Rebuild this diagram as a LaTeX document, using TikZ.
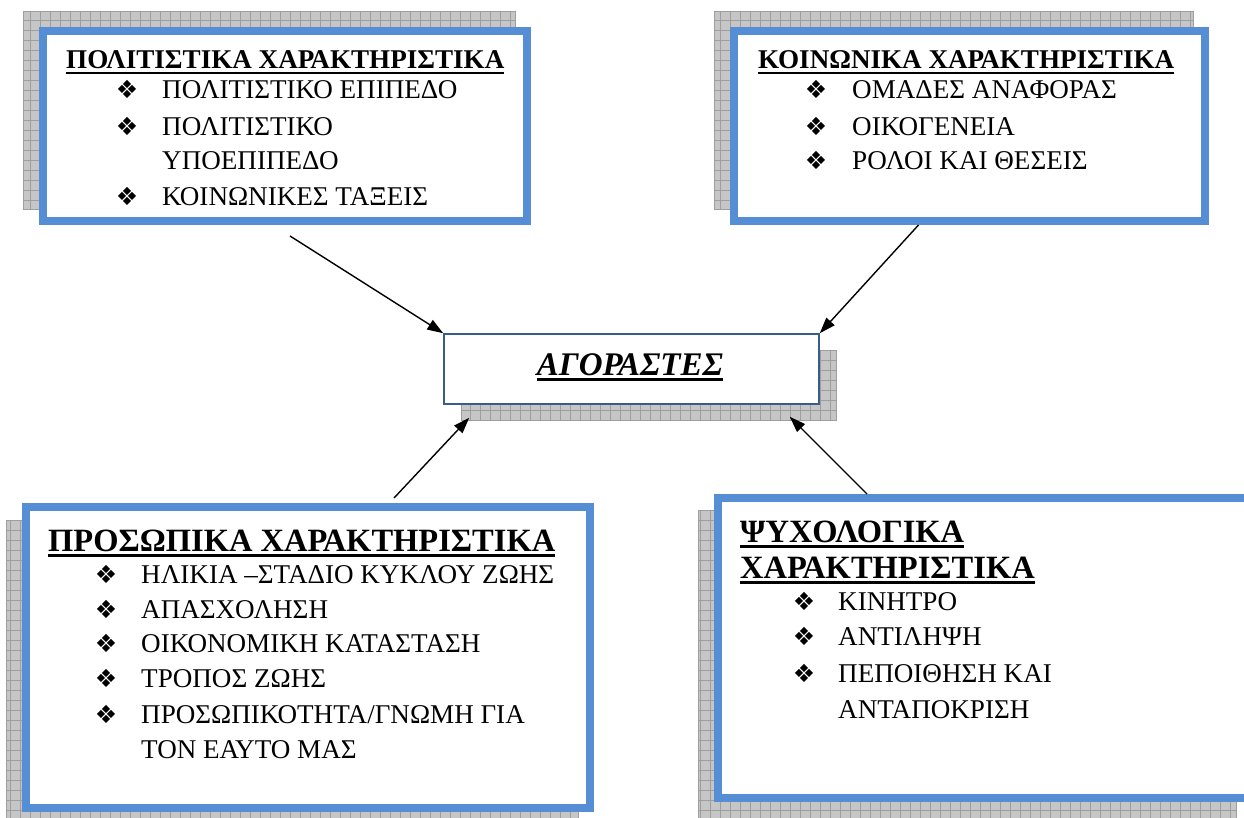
\documentclass[tikz,border=0pt]{standalone}
\usepackage{fontspec}
\setmainfont{Liberation Serif}
\newfontfamily\dejavu{DejaVu Sans}
\usetikzlibrary{arrows.meta,calc}
\definecolor{boxblue}{RGB}{85,142,213}
\definecolor{cborder}{RGB}{56,93,138}
\definecolor{shadowgray}{RGB}{198,198,198}
\definecolor{gridgray}{RGB}{158,158,158}
\newcommand\ulbox[1]{\setbox0\hbox{#1}\rlap{\rule[-5.5pt]{\wd0}{2.4pt}}\box0}
\begin{document}
\begin{tikzpicture}[x=1pt,y=-1pt,
  bluebox/.style={draw=boxblue, line width=8pt, fill=white, inner sep=0pt},
  centerbox/.style={draw=cborder, line width=1.5pt, fill=white, inner sep=0pt},
  ttl/.style={anchor=base west, inner sep=0pt, font=\fontsize{27.1}{30}\selectfont\bfseries},
  bigttl/.style={anchor=base west, inner sep=0pt, font=\fontsize{32.5}{36}\selectfont\bfseries},
  item/.style={anchor=base west, inner sep=0pt, font=\fontsize{27.1}{30}\selectfont},
  bul/.style={anchor=base, inner sep=0pt, font=\dejavu\fontsize{25}{28}\selectfont},
  arr/.style={-{Triangle[length=16pt,width=11pt]}, line width=1.4pt},
  shadowfill/.style={fill=shadowgray, draw=gridgray, line width=0.6pt},
  gridl/.style={draw=gridgray, line width=0.6pt}
]
\useasboundingbox (0,0) rectangle (1244,818);
\clip (0,0) rectangle (1244,818);

% shadows
\path[shadowfill] (23,11) rectangle (515,209);
\draw[gridl, step=10pt] (23,11) grid (515,209);
\path[shadowfill] (714,11) rectangle (1193,209);
\draw[gridl, step=10pt] (714,11) grid (1193,209);
\path[shadowfill] (6,520) rectangle (578,829);
\draw[gridl, step=10pt] (6,520) grid (578,829);
\path[shadowfill] (698,510) rectangle (1236,829);
\draw[gridl, step=10pt] (698,510) grid (1236,829);
\path[shadowfill] (461,350) rectangle (836,420);
\draw[gridl, step=10pt] (461,350) grid (836,420);

% boxes
\node[bluebox, minimum width=484pt, minimum height=190pt] (b1) at (285,126) {};
\node[bluebox, minimum width=471pt, minimum height=190pt] (b2) at (969.5,126) {};
\node[bluebox, minimum width=564pt, minimum height=301pt] (b3) at (308,657.5) {};
\node[bluebox, minimum width=530pt, minimum height=300pt] (b4) at (983,648) {};
\node[centerbox, minimum width=375pt, minimum height=70pt] (c) at (631.5,369) {};

% centre text
\node[anchor=base, inner sep=0pt, font=\fontsize{33}{36}\selectfont\bfseries\itshape] (ct) at (630,375) {\ulbox{ΑΓΟΡΑΣΤΕΣ}};

% box 1
\node[ttl] (t1) at (66,69) {\ulbox{ΠΟΛΙΤΙΣΤΙΚΑ ΧΑΡΑΚΤΗΡΙΣΤΙΚΑ}};
\node[bul] (p1a) at (127,99) {❖};
\node[item] (i1a) at (162,99) {ΠΟΛΙΤΙΣΤΙΚΟ ΕΠΙΠΕΔΟ};
\node[bul] (p1b) at (127,136) {❖};
\node[item] (i1b) at (162,136) {ΠΟΛΙΤΙΣΤΙΚΟ};
\node[item] (i1c) at (162,170) {ΥΠΟΕΠΙΠΕΔΟ};
\node[bul] (p1d) at (127,206) {❖};
\node[item] (i1d) at (162,206) {ΚΟΙΝΩΝΙΚΕΣ ΤΑΞΕΙΣ};

% box 2
\node[ttl] (t2) at (758,69) {\ulbox{ΚΟΙΝΩΝΙΚΑ ΧΑΡΑΚΤΗΡΙΣΤΙΚΑ}};
\node[bul] (p2a) at (816,99) {❖};
\node[item] (i2a) at (852,99) {ΟΜΑΔΕΣ ΑΝΑΦΟΡΑΣ};
\node[bul] (p2b) at (816,136) {❖};
\node[item] (i2b) at (852,136) {ΟΙΚΟΓΕΝΕΙΑ};
\node[bul] (p2c) at (816,170) {❖};
\node[item] (i2c) at (852,170) {ΡΟΛΟΙ ΚΑΙ ΘΕΣΕΙΣ};

% box 3
\node[bigttl] (t3) at (48,551) {\ulbox{ΠΡΟΣΩΠΙΚΑ ΧΑΡΑΚΤΗΡΙΣΤΙΚΑ}};
\node[bul] (p3a) at (106,583) {❖};
\node[item] (i3a) at (141,583) {ΗΛΙΚΙΑ –ΣΤΑΔΙΟ ΚΥΚΛΟΥ ΖΩΗΣ};
\node[bul] (p3b) at (106,618) {❖};
\node[item] (i3b) at (141,618) {ΑΠΑΣΧΟΛΗΣΗ};
\node[bul] (p3c) at (106,652) {❖};
\node[item] (i3c) at (141,652) {ΟΙΚΟΝΟΜΙΚΗ ΚΑΤΑΣΤΑΣΗ};
\node[bul] (p3d) at (106,687) {❖};
\node[item] (i3d) at (141,687) {ΤΡΟΠΟΣ ΖΩΗΣ};
\node[bul] (p3e) at (106,723) {❖};
\node[item] (i3e) at (141,723) {ΠΡΟΣΩΠΙΚΟΤΗΤΑ/ΓΝΩΜΗ ΓΙΑ};
\node[item] (i3f) at (141,758) {ΤΟΝ ΕΑΥΤΟ ΜΑΣ};

% box 4
\node[bigttl] (t4a) at (740,542) {\ulbox{ΨΥΧΟΛΟΓΙΚΑ}};
\node[bigttl] (t4b) at (740,578) {\ulbox{ΧΑΡΑΚΤΗΡΙΣΤΙΚΑ}};
\node[bul] (p4a) at (804,610) {❖};
\node[item] (i4a) at (838,610) {ΚΙΝΗΤΡΟ};
\node[bul] (p4b) at (804,645) {❖};
\node[item] (i4b) at (838,645) {ΑΝΤΙΛΗΨΗ};
\node[bul] (p4c) at (804,682) {❖};
\node[item] (i4c) at (838,682) {ΠΕΠΟΙΘΗΣΗ ΚΑΙ};
\node[item] (i4d) at (838,718) {ΑΝΤΑΠΟΚΡΙΣΗ};

% arrows
\draw[arr] ([xshift=5pt,yshift=-11pt]b1.south) -- (c.north west);
\draw[arr] ([xshift=-51pt]b2.south) -- (c.north east);
\draw[arr] ([xshift=86pt,yshift=5pt]b3.north) -- ([xshift=26pt,yshift=-13pt]c.south west);
\draw[arr] ([xshift=-116pt]b4.north) -- ([xshift=-30pt,yshift=-12pt]c.south east);
\end{tikzpicture}
\end{document}
